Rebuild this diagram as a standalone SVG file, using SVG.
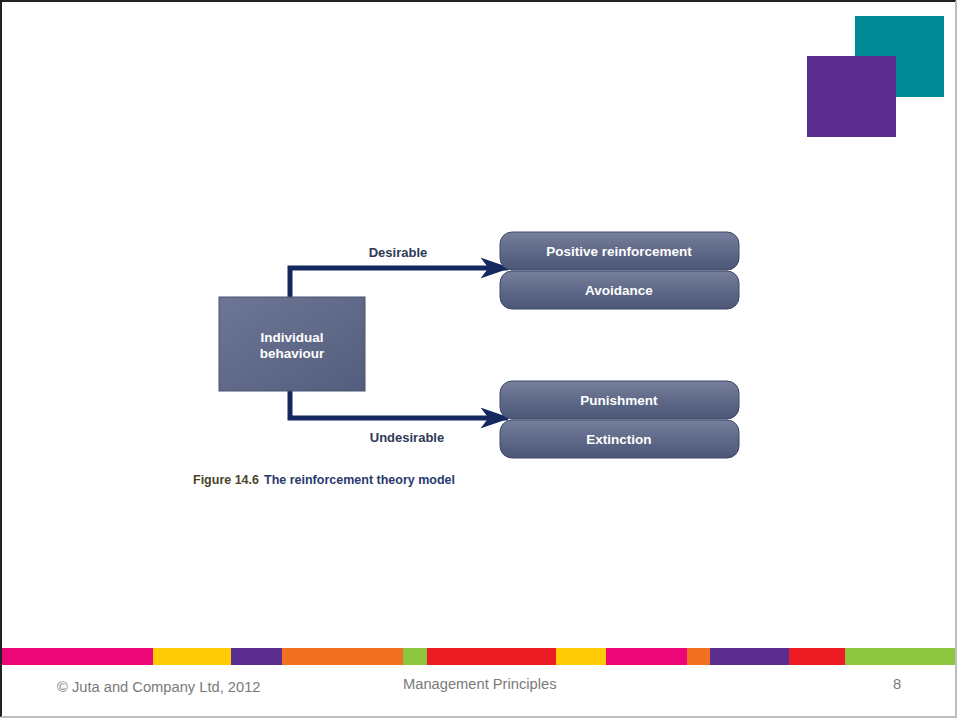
<svg xmlns="http://www.w3.org/2000/svg" width="957" height="718" viewBox="0 0 957 718">
<defs>
<linearGradient id="pill" x1="0" y1="0" x2="0" y2="1">
<stop offset="0" stop-color="#77809c"/>
<stop offset="0.5" stop-color="#5f6988"/>
<stop offset="1" stop-color="#4c5677"/>
</linearGradient>
<linearGradient id="box" x1="0" y1="0" x2="1" y2="1">
<stop offset="0" stop-color="#6d7694"/>
<stop offset="1" stop-color="#535d7d"/>
</linearGradient>
<marker id="arr" markerWidth="7" markerHeight="6" refX="5.5" refY="3" orient="auto" markerUnits="strokeWidth">
<path d="M0,0.9 L6,3 L0,5.1 L1.6,3 Z" fill="#13295f"/>
</marker>
<style>
.pill{fill:url(#pill);stroke:#3f4868;stroke-width:1}
.pt{font-family:"Liberation Sans",Arial,sans-serif;font-weight:bold;font-size:13.5px;fill:#ffffff;text-anchor:middle}
.lbl{font-family:"Liberation Sans",Arial,sans-serif;font-weight:bold;font-size:13px;fill:#2f3a58;text-anchor:middle}
.conn{fill:none;stroke:#13295f;stroke-width:5;stroke-linejoin:miter}
.foot{font-family:"Liberation Sans",Arial,sans-serif;font-size:14.7px;fill:#7a7a7a}
</style>
</defs>
<rect width="957" height="718" fill="#ffffff"/>
<path d="M1,717 V1 H956" fill="none" stroke="#222" stroke-width="2"/>
<path d="M956,1 V717 H1" fill="none" stroke="#bdbdbd" stroke-width="2"/>
<rect x="855" y="16" width="89" height="81" fill="#008a97"/>
<rect x="807" y="56" width="89" height="81" fill="#5b2d8e"/>
<g id="bar">
<rect x="2" y="648" width="151" height="17" fill="#ec0677"/>
<rect x="153" y="648" width="78" height="17" fill="#ffcb05"/>
<rect x="231" y="648" width="51" height="17" fill="#5b2d8e"/>
<rect x="282" y="648" width="121" height="17" fill="#f37022"/>
<rect x="403" y="648" width="24" height="17" fill="#8dc63f"/>
<rect x="427" y="648" width="129" height="17" fill="#ed1c24"/>
<rect x="556" y="648" width="50" height="17" fill="#ffcb05"/>
<rect x="606" y="648" width="81" height="17" fill="#ec0677"/>
<rect x="687" y="648" width="23" height="17" fill="#f37022"/>
<rect x="710" y="648" width="79" height="17" fill="#5b2d8e"/>
<rect x="789" y="648" width="56" height="17" fill="#ed1c24"/>
<rect x="845" y="648" width="110" height="17" fill="#8dc63f"/>
</g>
<text class="foot" x="57" y="692">© Juta and Company Ltd, 2012</text>
<text class="foot" x="403" y="689" font-family="'Open Sans',sans-serif" font-size="14.6">Management Principles</text>
<text class="foot" x="893" y="689">8</text>
<g id="connectors">
<path class="conn" d="M290,297 V268 H508" marker-end="url(#arr)"/>
<path class="conn" d="M290,391 V418 H508" marker-end="url(#arr)"/>
<text class="lbl" x="398" y="257">Desirable</text>
<text class="lbl" x="407" y="442">Undesirable</text>
</g>
<g id="individual">
<rect x="219" y="297" width="146" height="94" fill="url(#box)" stroke="#4a5373" stroke-width="1"/>
<text class="pt" x="292" y="342">Individual</text>
<text class="pt" x="292" y="358">behaviour</text>
</g>
<g id="positive">
<rect class="pill" x="500" y="232" width="239" height="38" rx="12"/>
<text class="pt" x="619" y="256">Positive reinforcement</text>
</g>
<g id="avoidance">
<rect class="pill" x="500" y="271" width="239" height="38" rx="12"/>
<text class="pt" x="619" y="295">Avoidance</text>
</g>
<g id="punishment">
<rect class="pill" x="500" y="381" width="239" height="38" rx="12"/>
<text class="pt" x="619" y="405">Punishment</text>
</g>
<g id="extinction">
<rect class="pill" x="500" y="420" width="239" height="38" rx="12"/>
<text class="pt" x="619" y="444">Extinction</text>
</g>
<text x="193" y="484" font-family="'Liberation Sans Narrow','Liberation Sans',Arial,sans-serif" font-weight="bold" font-size="12.5"><tspan fill="#4a4428">Figure 14.6</tspan><tspan fill="#2a3a6e" dx="5">The reinforcement theory model</tspan></text>
</svg>
